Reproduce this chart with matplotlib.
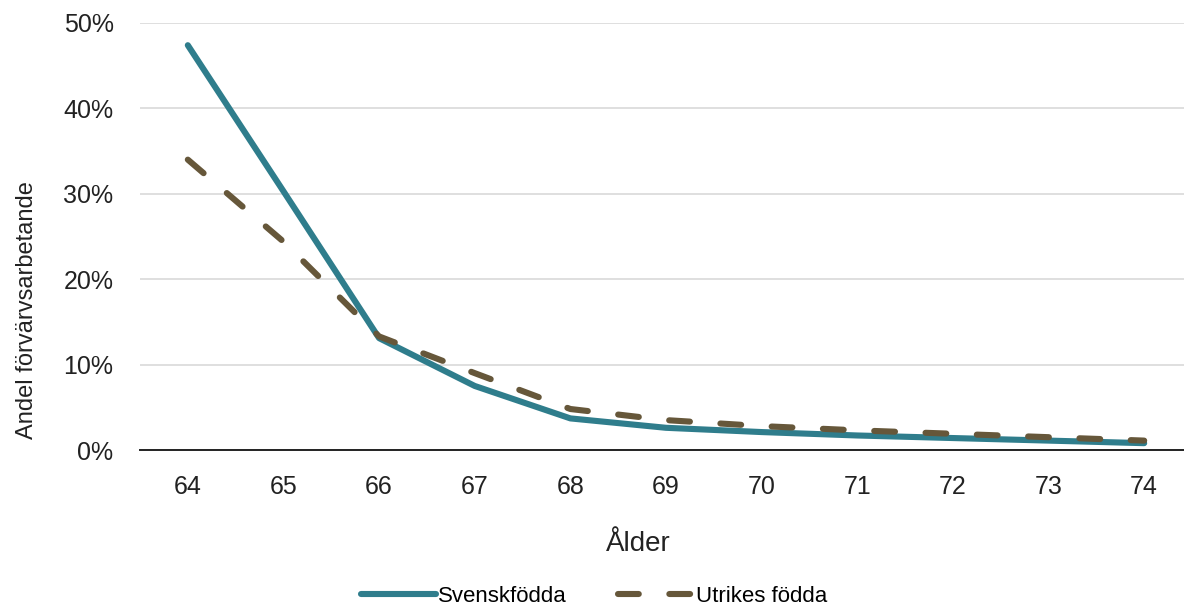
#!/usr/bin/env python3
# -*- coding: utf-8 -*-

import matplotlib
matplotlib.use("Agg")
import matplotlib.pyplot as plt
from matplotlib.ticker import FuncFormatter

# data
alder       = [64, 65, 66, 67, 68, 69, 70, 71, 72, 73, 74]
svenskfodda = [47.4, 30.3, 13.1, 7.5, 3.7, 2.6, 2.1, 1.7, 1.4, 1.1, 0.8]
utrikes     = [34.0, 24.4, 13.3, 9.0, 4.8, 3.5, 2.8, 2.3, 1.9, 1.5, 1.1]

y_ticks = [0, 10, 20, 30, 40, 50]

plt.rcParams['font.family'] = ['Liberation Sans', 'DejaVu Sans']

W, H = 1184, 607
fig = plt.figure(figsize=(W / 100, H / 100), dpi=100)
# axes placed in pixel terms of the reference
left, right, top, bottom = 140, 1192, 23, 450
ax = fig.add_axes([left / W, 1 - bottom / H, (right - left) / W, (bottom - top) / H])

teal  = '#2f7d8c'
brown = '#66573a'
lw    = 4.4

ax.plot(alder, svenskfodda, color=teal, lw=lw, solid_capstyle='round',
        solid_joinstyle='round', label='Svenskfödda', zorder=3)
ax.plot(alder, utrikes, color=brown, lw=lw, dashes=(3.4, 5.0),
        dash_capstyle='round', label='Utrikes födda', zorder=4)

ax.set_xlim(63.5, 74.5)
ax.set_ylim(0, 50)
ax.set_xticks(alder)
ax.set_yticks(y_ticks)
ax.yaxis.set_major_formatter(FuncFormatter(lambda v, p: f'{v:.0f}%'))

ax.grid(axis='y', color='#d9d9d9', lw=1.2)
ax.set_axisbelow(True)
for s in ['left', 'right', 'top']:
    ax.spines[s].set_visible(False)
ax.spines['bottom'].set_color('#222222')
ax.spines['bottom'].set_linewidth(1.4)
ax.spines['bottom'].set_zorder(2)

ax.tick_params(axis='both', length=0, labelsize=18, colors='#222222')
ax.tick_params(axis='x', pad=18)
ax.tick_params(axis='y', pad=19)

fig.text(27 / W, 1 - 310 / H, 'Andel förvärvsarbetande', rotation=90,
         ha='center', va='center', fontsize=17, color='#222222')
fig.text(638 / W, 1 - 544 / H, 'Ålder', ha='center', va='center',
         fontsize=20, color='#222222')

fig.legend(loc='center', bbox_to_anchor=(594 / W, 1 - 596 / H), ncol=2,
           frameon=False, fontsize=16, handlelength=3.4, handletextpad=0.1,
           columnspacing=2.3)

fig.savefig('out.png', dpi=100)
